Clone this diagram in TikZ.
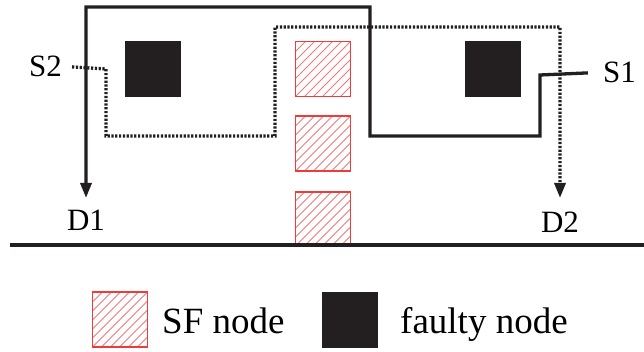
\documentclass[tikz,border=0pt]{standalone}
\usepackage{fontspec}
\setmainfont{Liberation Serif}
\usetikzlibrary{arrows.meta}

\definecolor{faultcol}{HTML}{231F20}
\definecolor{sfred}{HTML}{EE3B3B}
\definecolor{hatchred}{HTML}{F27A7A}

\tikzset{
  faulty/.style={draw=faultcol, fill=faultcol, line width=0.6pt,
    minimum size=55pt, inner sep=0pt},
  sfnode/.style={draw=sfred, line width=1.4pt, minimum width=55pt,
    minimum height=#1, inner sep=0pt,
    path picture={
      \foreach \k in {-8,...,8}
        \draw[hatchred, line width=1pt]
          ([xshift=\k*9pt-60pt, yshift=-60pt]path picture bounding box.center)
          -- ++(120pt,120pt);
    }},
  sfnode/.default=55pt,
  lbl/.style={font=\fontsize{31}{31}\selectfont, inner sep=2pt},
  legtxt/.style={font=\fontsize{37}{37}\selectfont, inner sep=0pt, anchor=base west},
  routeA/.style={draw=faultcol, line width=3.3pt,
    -{Triangle[length=15pt,width=11pt]}},
  routeB/.style={draw=faultcol, line width=3.3pt, dash pattern=on 2.2pt off 1.6pt,
    -{Triangle[length=15pt,width=11pt]}},
  ground/.style={draw=faultcol, line width=3.3pt},
}

\begin{document}
\begin{tikzpicture}[x=1pt, y=-1pt]
  \useasboundingbox (0,0) rectangle (644,352);

  % faulty nodes
  \node[faulty] (f1) at (153,69) {};
  \node[faulty] (f2) at (492.5,69) {};

  % safe-fault (SF) nodes
  \node[sfnode] (sf1) at (323,69) {};
  \node[sfnode] (sf2) at (323,143.5) {};
  \node[sfnode=53pt] (sf3) at (323,218.5) {};

  % ground line
  \coordinate (gl) at (10,245);
  \coordinate (gr) at (644,245);
  \draw[ground] (gl) -- (gr);

  % sources and destinations
  \node[lbl, anchor=base] (S2) at (45.5,77) {S2};
  \node[lbl, anchor=base] (S1) at (619.5,83) {S1};
  \node[lbl, anchor=base] (D1) at (86,231) {D1};
  \node[lbl, anchor=base] (D2) at (560,233) {D2};

  % route S2 -> D2 (dotted)
  \draw[routeB] ([xshift=8pt]S2.east) -- (106,69) -- (106,136) -- (275,136)
    -- (275,27) -- (560,27) -- (D2.north |- 0,198);

  % route S1 -> D1 (solid)
  \draw[routeA] ([xshift=-13pt]S1.west) -- (540,75) -- (540,136) -- (370,136)
    -- (370,7) -- (86,7) -- (D1.north |- 0,198);

  % legend
  \node[sfnode] (legsf) at (120,319.5) {};
  \node[legtxt] (legsft) at (162,333) {SF node};
  \node[faulty] (legf) at (350,319.5) {};
  \node[legtxt] (legft) at (400,333) {faulty node};
\end{tikzpicture}
\end{document}
